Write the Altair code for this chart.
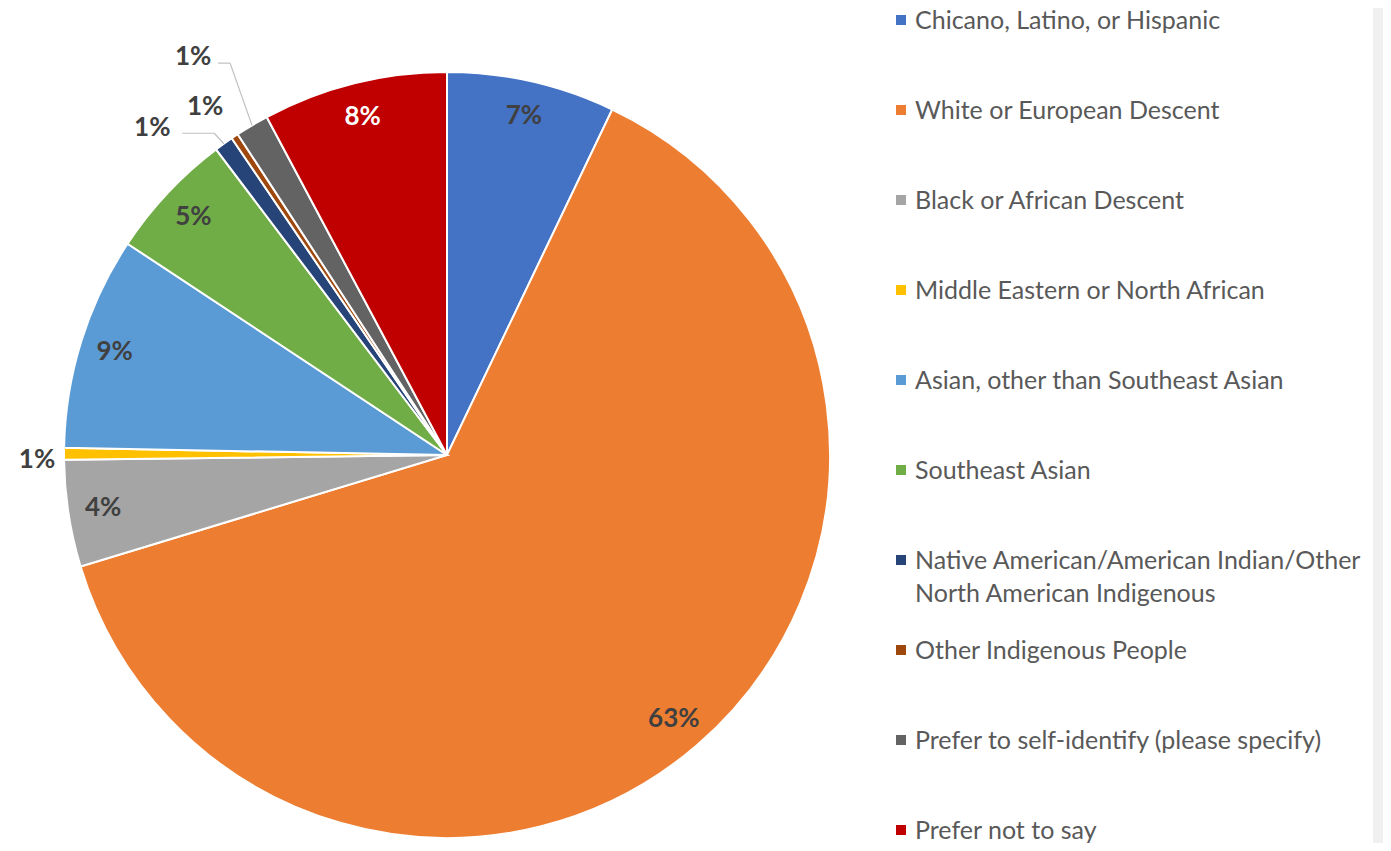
import math
import altair as alt
import pandas as pd

categories = [
    "Chicano, Latino, or Hispanic",
    "White or European Descent",
    "Black or African Descent",
    "Middle Eastern or North African",
    "Asian, other than Southeast Asian",
    "Southeast Asian",
    "Native American/American Indian/Other North American Indigenous",
    "Other Indigenous People",
    "Prefer to self-identify (please specify)",
    "Prefer not to say",
]
legend_text = [
    "Chicano, Latino, or Hispanic",
    "White or European Descent",
    "Black or African Descent",
    "Middle Eastern or North African",
    "Asian, other than Southeast Asian",
    "Southeast Asian",
    "Native American/American Indian/Other\nNorth American Indigenous",
    "Other Indigenous People",
    "Prefer to self-identify (please specify)",
    "Prefer not to say",
]
values = [7.1, 63.2, 4.5, 0.5, 9.0, 5.4, 0.8, 0.3, 1.4, 7.8]
pct_labels = ["7%", "63%", "4%", "1%", "9%", "5%", "1%", "1%", "1%", "8%"]
colors = ["#4472C4", "#ED7D31", "#A5A5A5", "#FFC000", "#5B9BD5",
          "#70AD47", "#264478", "#9E480E", "#636363", "#C00000"]

df = pd.DataFrame({
    "cat": categories,
    "legend": legend_text,
    "value": values,
    "label": pct_labels,
    "order": list(range(len(categories))),
})
total = float(sum(values))

W, H = 1375, 835
CX, CY, R = 439, 447, 383
TWO_PI = 2 * math.pi
FONT = "Lato"

theta_scale = alt.Scale(domain=[0, total], range=[0, TWO_PI])

base = alt.Chart(df).transform_window(
    cum="sum(value)", sort=[alt.SortField("order")], frame=[None, 0]
).transform_calculate(mid="datum.cum - datum.value / 2")

pie = alt.Chart(df).mark_arc(radius=R, stroke="white", strokeWidth=2).encode(
    theta=alt.Theta("value:Q", stack=True, scale=theta_scale),
    order=alt.Order("order:Q"),
    color=alt.Color("cat:N", scale=alt.Scale(domain=categories, range=colors), legend=None),
    x=alt.value(CX),
    y=alt.value(CY),
)

inside = base.transform_filter("datum.value >= 2").mark_text(
    radius=348, font=FONT, fontSize=26, fontWeight="bold"
).encode(
    theta=alt.Theta("mid:Q", stack=False, scale=theta_scale),
    text="label:N",
    color=alt.condition("datum.cat == 'Prefer not to say'", alt.value("#FFFFFF"), alt.value("#404040")),
    x=alt.value(CX),
    y=alt.value(CY),
)

# outside labels: (label radius, angular shift in value units, leader segments relative to label)
small = {
    "Middle Eastern or North African": (410, -0.25, None),
    "Native American/American Indian/Other North American Indigenous": (440, -1.78, (30, 62, 5)),
    "Other Indigenous People": (424, -0.31, None),
    "Prefer to self-identify (please specify)": (472, -0.54, (25, 37, 6)),
}

layers = [pie, inside]
for cat, (lr, shift, leader) in small.items():
    sb = base.transform_filter(alt.datum.cat == cat).transform_calculate(
        th=f"datum.mid + ({shift})"
    )
    layers.append(
        sb.mark_text(radius=lr, font=FONT, fontSize=26, fontWeight="bold", color="#404040").encode(
            theta=alt.Theta("th:Q", stack=False, scale=theta_scale),
            text="label:N",
            x=alt.value(CX),
            y=alt.value(CY),
        )
    )
    if leader:
        a0, a1, dyl = leader
        lb = sb.transform_calculate(
            la=f"datum.th / {total} * 2 * PI",
            ma=f"datum.mid / {total} * 2 * PI",
        ).transform_calculate(
            lx=f"{CX} + {lr} * sin(datum.la)",
            ly=f"{CY} - {lr} * cos(datum.la)",
            ex=f"{CX} + {R} * sin(datum.ma)",
            ey=f"{CY} - {R} * cos(datum.ma)",
        ).transform_calculate(
            hx1=f"datum.lx + {a0}",
            hx2=f"datum.lx + {a1}",
            hy=f"datum.ly + {dyl}",
        )
        layers.append(
            lb.mark_rule(color="#BFBFBF", strokeWidth=1.2).encode(
                x=alt.X("hx1:Q", scale=None), x2="hx2:Q",
                y=alt.Y("hy:Q", scale=None), y2="hy:Q",
            )
        )
        layers.append(
            lb.mark_rule(color="#BFBFBF", strokeWidth=1.2).encode(
                x=alt.X("hx2:Q", scale=None), x2="ex:Q",
                y=alt.Y("hy:Q", scale=None), y2="ey:Q",
            )
        )

leg_y = alt.Y("cat:N", sort=categories, axis=None,
              scale=alt.Scale(type="point", range=[12, 822], padding=0))

leg_sq = alt.Chart(df).mark_square(size=100, opacity=1, filled=True).encode(
    x=alt.value(893),
    y=leg_y,
    color=alt.Color("cat:N", scale=alt.Scale(domain=categories, range=colors), legend=None),
)
leg_tx = alt.Chart(df).mark_text(
    align="left", baseline="top", dy=-11, font=FONT, fontSize=25, color="#595959",
    lineBreak="\n", lineHeight=33,
).encode(
    x=alt.value(907),
    y=leg_y,
    text="legend:N",
)

strip = alt.Chart(df).mark_rect(color="#F0F0F0").encode(
    x=alt.value(1365), x2=alt.value(W), y=alt.value(0), y2=alt.value(H)
)

layers = [strip] + layers + [leg_sq, leg_tx]

chart = alt.layer(*layers).resolve_scale(
    x="independent", y="independent", theta="independent", color="shared"
).properties(
    width=W, height=H, padding=0, autosize=alt.AutoSizeParams(type="none")
).configure_view(stroke=None)

chart.save("out.html", embed_options={"renderer": "svg", "actions": False})
